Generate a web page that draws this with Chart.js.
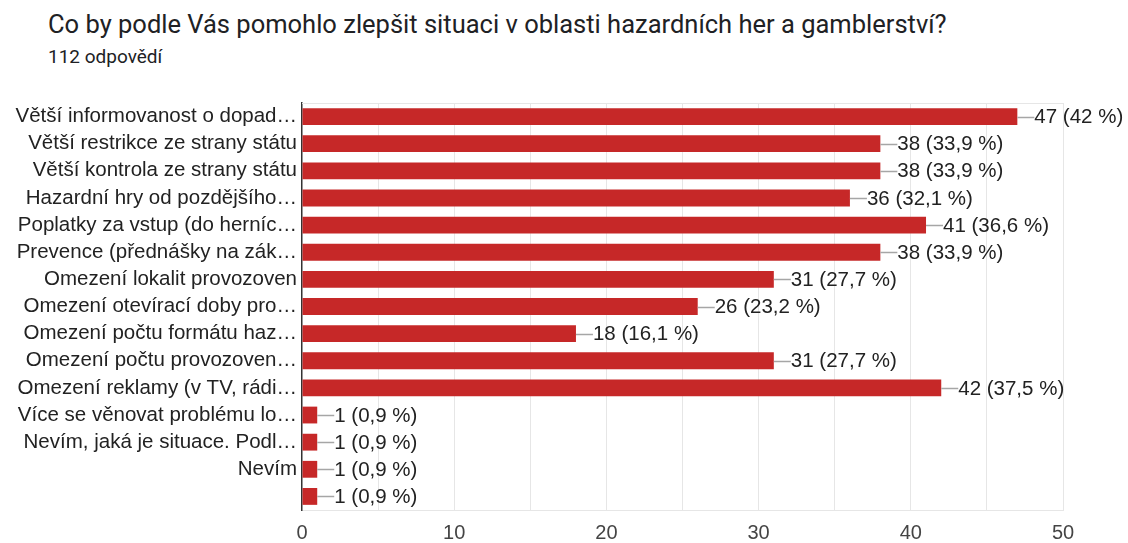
<!DOCTYPE html>
<html>
<head>
<meta charset="utf-8">
<script src="https://cdn.jsdelivr.net/npm/chart.js@4"></script>
<style>
  html, body { margin: 0; padding: 0; background: #fff; }
  #wrap { position: relative; width: 1128px; height: 543px; overflow: hidden; }
  #title { position: absolute; left: 48px; top: 9px; font: 25.5px/30px Roboto, sans-serif; color: #202124; white-space: nowrap; }
  #sub { position: absolute; left: 48px; top: 46px; font: 19px/22px Roboto, sans-serif; color: #202124; white-space: nowrap; }
  canvas { position: absolute; left: 0; top: 0; }
</style>
</head>
<body>
<div id="wrap">
  <div id="title">Co by podle Vás pomohlo zlepšit situaci v oblasti hazardních her a gamblerství?</div>
  <div id="sub">112 odpovědí</div>
  <canvas id="c" width="1128" height="543"></canvas>
</div>
<script>
var categories = [
  "Větší informovanost o dopad…",
  "Větší restrikce ze strany státu",
  "Větší kontrola ze strany státu",
  "Hazardní hry od pozdějšího…",
  "Poplatky za vstup (do herníc…",
  "Prevence (přednášky na zák…",
  "Omezení lokalit provozoven",
  "Omezení otevírací doby pro…",
  "Omezení počtu formátu haz…",
  "Omezení počtu provozoven…",
  "Omezení reklamy (v TV, rádi…",
  "Více se věnovat problému lo…",
  "Nevím, jaká je situace. Podl…",
  "Nevím",
  ""
];
var counts = [47, 38, 38, 36, 41, 38, 31, 26, 18, 31, 42, 1, 1, 1, 1];
var percents = ["42", "33,9", "33,9", "32,1", "36,6", "33,9", "27,7", "23,2", "16,1", "27,7", "37,5", "0,9", "0,9", "0,9", "0,9"];
var xTicks = [0, 10, 20, 30, 40, 50];

var barColor = "#c62828";
var gridColor = "#e6e6e6";
var textColor = "#222";
var chartFont = "Arial, 'Liberation Sans', sans-serif";

// leader line + "n (x %)" next to each bar, plus the light top border
var valueLabels = {
  id: "valueLabels",
  beforeDatasetsDraw: function (chart) {
    var ctx = chart.ctx, a = chart.chartArea;
    ctx.save();
    ctx.strokeStyle = gridColor;
    ctx.lineWidth = 1;
    ctx.beginPath();
    ctx.moveTo(a.left, a.top + 0.5);
    ctx.lineTo(a.right, a.top + 0.5);
    ctx.stroke();
    ctx.restore();
  },
  afterDatasetsDraw: function (chart) {
    var ctx = chart.ctx;
    var meta = chart.getDatasetMeta(0);
    ctx.save();
    ctx.font = "20.5px " + chartFont;
    ctx.textBaseline = "middle";
    ctx.textAlign = "left";
    meta.data.forEach(function (bar, i) {
      var x = bar.x, y = Math.round(bar.y) + 0.5;
      ctx.strokeStyle = "#a6a6a6";
      ctx.lineWidth = 1.5;
      ctx.beginPath();
      ctx.moveTo(x, y);
      ctx.lineTo(x + 17, y);
      ctx.stroke();
      ctx.fillStyle = textColor;
      ctx.fillText(counts[i] + " (" + percents[i] + " %)", x + 17, bar.y + 1);
    });
    ctx.restore();
  }
};

new Chart(document.getElementById("c"), {
  type: "bar",
  data: {
    labels: categories,
    datasets: [{
      data: counts,
      backgroundColor: barColor,
      borderWidth: 0,
      categoryPercentage: 1,
      barPercentage: 0.62
    }]
  },
  options: {
    indexAxis: "y",
    responsive: false,
    animation: false,
    layout: { padding: { top: 103, right: 65, left: 0, bottom: 0 } },
    plugins: { legend: { display: false }, tooltip: { enabled: false }, title: { display: false } },
    scales: {
      x: {
        min: 0,
        max: 50,
        afterBuildTicks: function (scale) {
          var t = [];
          for (var v = 0; v <= 50; v += 5) t.push({ value: v });
          scale.ticks = t;
        },
        afterFit: function (scale) { scale.height = 33; },
        grid: {
          color: function (c) { return c.tick && c.tick.value === 0 ? "rgba(0,0,0,0)" : gridColor; },
          drawTicks: false,
          lineWidth: 1
        },
        border: { display: true, color: gridColor },
        ticks: {
          padding: 11,
          color: "#444",
          font: { family: chartFont, size: 20 },
          autoSkip: false,
          maxRotation: 0,
          callback: function (v) { return xTicks.indexOf(v) >= 0 ? String(v) : ""; }
        }
      },
      y: {
        afterFit: function (scale) { scale.width = 302; },
        grid: { display: false, drawTicks: false },
        border: { display: true, color: "#333", width: 1.5 },
        ticks: {
          padding: 5,
          color: textColor,
          font: { family: chartFont, size: 20.5 },
          autoSkip: false
        }
      }
    }
  },
  plugins: [valueLabels]
});
</script>
</body>
</html>
